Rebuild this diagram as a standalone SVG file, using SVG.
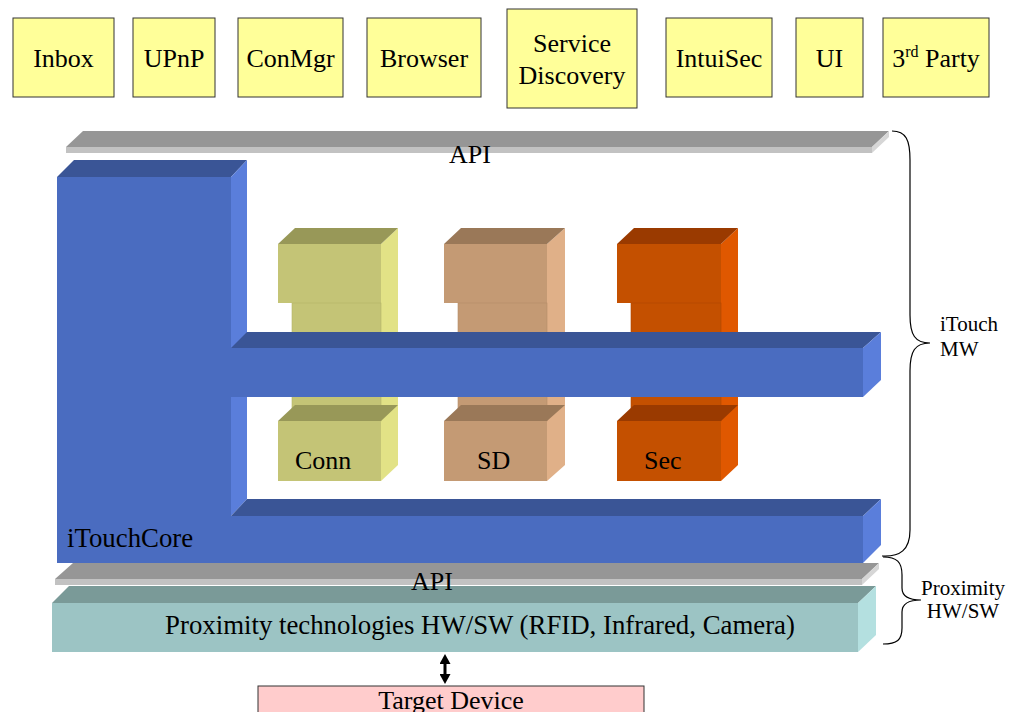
<svg xmlns="http://www.w3.org/2000/svg" width="1011" height="712" viewBox="0 0 1011 712" font-family="'Liberation Serif', Tinos, 'Times New Roman', 'DejaVu Serif', serif">
<style>
text{font-family:"Liberation Serif",Tinos,"Times New Roman","DejaVu Serif",serif;fill:#000}
.t26{font-size:26px}
.t27{font-size:26.8px}
.t21{font-size:21px}
.app{fill:#FFFF99;stroke:#333;stroke-width:1}
.bt{fill:#3A5596}.bf{fill:#4A6CC0}.bs{fill:#5A7EDB}
.gt{fill:#969696}.gf{fill:#C2C2C2}.gs{fill:#D6D6D6}
.ct{fill:#989858}.cf{fill:#C4C476}.cs{fill:#E2E286}
.st{fill:#9A7858}.sf{fill:#C49A74}.ss{fill:#E0B088}
.xt{fill:#9A3A00}.xf{fill:#C45000}.xs{fill:#E05800}
.pt{fill:#7A9A98}.pf{fill:#9CC4C4}.ps{fill:#B4E0E0}
.brace{fill:none;stroke:#000;stroke-width:1.2}
</style>
<defs>
<marker id="ah" markerWidth="10" markerHeight="11" refX="4" refY="5.5" orient="auto-start-reverse" markerUnits="userSpaceOnUse">
<path d="M0,0 L10,5.5 L0,11 z" fill="#000"/>
</marker>
</defs>

<g id="app-inbox"><rect class="app" x="13" y="18" width="101" height="79"/><text class="t26" x="63.5" y="67" text-anchor="middle">Inbox</text></g>
<g id="app-upnp"><rect class="app" x="133" y="18" width="82" height="79"/><text class="t26" x="174" y="67" text-anchor="middle">UPnP</text></g>
<g id="app-conmgr"><rect class="app" x="238" y="18" width="105" height="79"/><text class="t26" x="290.5" y="67" text-anchor="middle">ConMgr</text></g>
<g id="app-browser"><rect class="app" x="367" y="18" width="114" height="79"/><text class="t26" x="424" y="67" text-anchor="middle">Browser</text></g>
<g id="app-sd"><rect class="app" x="507" y="9" width="130" height="99"/><text class="t26" x="572" y="52" text-anchor="middle">Service</text><text class="t26" x="572" y="84" text-anchor="middle">Discovery</text></g>
<g id="app-intuisec"><rect class="app" x="666" y="18" width="106" height="79"/><text class="t26" x="719" y="67" text-anchor="middle">IntuiSec</text></g>
<g id="app-ui"><rect class="app" x="796" y="18" width="67" height="79"/><text class="t26" x="829.5" y="67" text-anchor="middle">UI</text></g>
<g id="app-3rd"><rect class="app" x="883" y="18" width="106" height="79"/><text class="t26" x="936" y="67" text-anchor="middle">3<tspan font-size="16" dy="-10">rd</tspan><tspan dy="10"> Party</tspan></text></g>

<g id="api-top">
<polygon class="gt" points="83,131 889,131 872,147 66,147"/>
<rect class="gf" x="66" y="147" width="806" height="6"/>
<polygon class="gs" points="872,147 889,131 889,137 872,153"/>
<text class="t26" x="470" y="163" text-anchor="middle">API</text>
</g>

<g id="pillar-conn">
<polygon class="cs" points="381,244 398,228 398,465 381,481"/>
<polygon class="ct" points="278,244 295,228 398,228 381,244"/>
<rect class="cf" x="278" y="244" width="103" height="59"/>
<rect class="cf" x="292" y="303" width="89" height="118" stroke="#B4B468" stroke-width="0.6"/>
<polygon class="ct" points="278,421 295,405 398,405 381,421"/>
<rect class="cf" x="278" y="421" width="103" height="60"/>
<text class="t26" x="295" y="469">Conn</text>
</g>
<g id="pillar-sd">
<polygon class="ss" points="547,244 565,228 565,465 547,481"/>
<polygon class="st" points="444,244 461,228 565,228 547,244"/>
<rect class="sf" x="444" y="244" width="103" height="59"/>
<rect class="sf" x="458" y="303" width="89" height="118" stroke="#B48C68" stroke-width="0.6"/>
<polygon class="st" points="444,421 461,405 565,405 547,421"/>
<rect class="sf" x="444" y="421" width="103" height="60"/>
<text class="t26" x="477" y="469">SD</text>
</g>
<g id="pillar-sec">
<polygon class="xs" points="721,244 738,228 738,465 721,481"/>
<polygon class="xt" points="617,244 634,228 738,228 721,244"/>
<rect class="xf" x="617" y="244" width="104" height="59"/>
<rect class="xf" x="631" y="303" width="90" height="118" stroke="#B04800" stroke-width="0.6"/>
<polygon class="xt" points="617,421 634,405 738,405 721,421"/>
<rect class="xf" x="617" y="421" width="104" height="60"/>
<text class="t26" x="644" y="469">Sec</text>
</g>

<g id="itouchcore">
<polygon class="bt" points="57,177 74,160 247,160 231,177"/>
<polygon class="bs" points="231,177 247,160 247,499 231,516"/>
<polygon class="bt" points="231,516 247,499 881,499 863,516"/>
<polygon class="bf" points="57,177 231,177 231,516 863,516 863,563 57,563"/>
<polygon class="bs" points="863,516 881,499 881,545 863,563"/>
<text class="t27" x="67" y="547">iTouchCore</text>
</g>

<g id="middle-bar">
<polygon class="bt" points="231,348 247,332 881,332 863,348"/>
<rect class="bf" x="231" y="348" width="632" height="49"/>
<polygon class="bs" points="863,348 881,332 881,380 863,397"/>
</g>

<g id="api-bottom">
<polygon class="gt" points="73,563 879,563 862,579 55,579"/>
<rect class="gf" x="55" y="579" width="807" height="6"/>
<polygon class="gs" points="862,579 879,563 879,569 862,585"/>
</g>

<g id="proximity">
<polygon class="pt" points="69,586 876,586 858,603 52,603"/>
<rect class="pf" x="52" y="603" width="806" height="49"/>
<polygon class="ps" points="858,603 876,586 876,635 858,652"/>
<text class="t27" x="480" y="634" text-anchor="middle">Proximity technologies HW/SW (RFID, Infrared, Camera)</text>
</g>
<text id="api-bottom-label" class="t26" x="432" y="590" text-anchor="middle">API</text>

<g id="target-device">
<rect x="258" y="686" width="386" height="40" fill="#FFCCCC" stroke="#333" stroke-width="1"/>
<text class="t26" x="451" y="709" text-anchor="middle">Target Device</text>
</g>

<g id="labels">
<text class="t21" x="940" y="331">iTouch</text>
<text class="t21" x="940" y="356">MW</text>
<text class="t21" x="963" y="595" text-anchor="middle">Proximity</text>
<text class="t21" x="963" y="618" text-anchor="middle">HW/SW</text>
</g>

<g id="connectors">
<path class="brace" d="M892,131 C906,131 910,140 910,160 L910,315 C910,335 915,343 930,343 C915,343 910,351 910,371 L910,530 C910,550 900,557 882,556"/>
<path class="brace" d="M883,557 C897,557 902,562 902,575 L902,588 C902,596 908,600 921,600 C908,600 902,604 902,612 L902,628 C902,640 897,644 883,644"/>
<line x1="445" y1="660" x2="445" y2="678" stroke="#000" stroke-width="3" marker-start="url(#ah)" marker-end="url(#ah)"/>
</g>
</svg>
